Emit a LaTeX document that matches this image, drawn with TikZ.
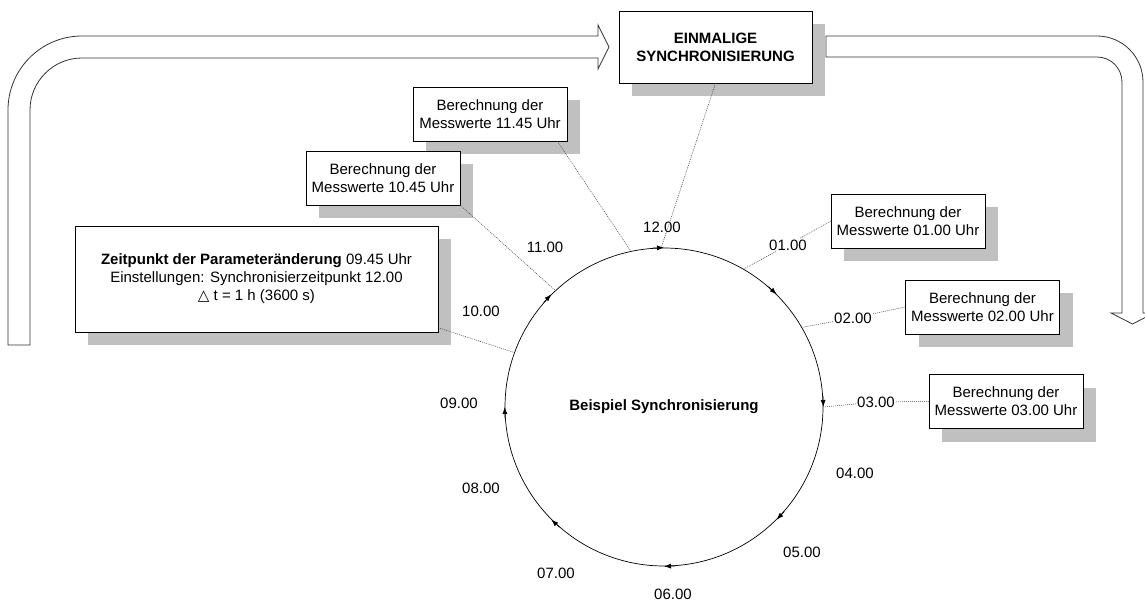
\documentclass[tikz,border=0pt]{standalone}
\usepackage{fontspec}
\setmainfont{Liberation Sans}
\newfontfamily\symfont{DejaVu Sans}
\usepackage{tikz}
\usetikzlibrary{arrows.meta,shadows}

\definecolor{shadowgray}{RGB}{192,192,192}
\newcommand{\boxfont}{\fontsize{15}{18}\selectfont}

\begin{document}
\begin{tikzpicture}[x=1pt,y=-1pt,font=\boxfont]
        \tikzset{box/.style = {draw, fill=white, align=center, inner sep=0pt,
                minimum width=154pt, minimum height=54pt,
                drop shadow={shadow xshift=13pt, shadow yshift=-13pt, fill=shadowgray, opacity=1}}}
        \tikzset{hour/.style = {inner sep=1pt}}
        \tikzset{link/.style = {draw=black!75, line width=0.5pt, dash pattern=on 1pt off 1pt}}
        \tikzset{edge/.style = {->,> = {Latex[length=7pt,width=5pt]}, line width=0.7pt}}
        \tikzset{band/.style = {draw=black!80, fill=white, line width=0.8pt}}

        \clip (0,0) rectangle (1145,601);

        % broad arrows
        \path[band] (8,345) -- (8,110) arc[start angle=180, end angle=90, radius=74pt]
            -- (598,36) -- (598,25) -- (609,47) -- (598,69) -- (598,58)
            -- (82,58) arc[start angle=90, end angle=180, radius=52pt] -- (30,345) -- cycle;
        \path[band] (826,36) -- (1097,36) arc[start angle=90, end angle=0, radius=46pt]
            -- (1143,313) -- (1154,313) -- (1132.5,324) -- (1111,313) -- (1122,313)
            -- (1122,82) arc[start angle=0, end angle=90, radius=25pt] -- (826,57) -- cycle;

        % nodes
        \node[box, minimum width=193pt, minimum height=72pt, font=\boxfont\bfseries] (sync)
            at (715.5,47) {EINMALIGE\\SYNCHRONISIERUNG};
        \node[box, minimum width=363pt, minimum height=106pt] (change) at (256.5,279)
            {\textbf{Zeitpunkt der Parameteränderung} 09.45 Uhr\\
             Einstellungen: Synchronisierzeitpunkt 12.00\\
             {\symfont △} t = 1 h (3600 s)};

        \foreach \n/\x/\y/\t in {1145/490/114/11.45, 1045/383/178/10.45, 0100/908/221/01.00,
                                 0200/982.5/307/02.00, 0300/1006/401.5/03.00}
            \node[box] (m\n) at (\x,\y) {Berechnung der\\Messwerte \t{} Uhr};

        \node[circle, draw, line width=0.7pt, minimum size=318pt, inner sep=0pt,
              font=\boxfont\bfseries] (clock) at (664,407) {Beispiel Synchronisierung};

        \foreach \h/\x/\y in {12/662/227, 01/788/245, 02/853/318, 03/876/402,
                              04/855/473, 05/802/552, 06/673/594, 07/556/573,
                              08/481/488, 09/459/403, 10/481/311, 11/545/247}
            \node[hour] (h\h) at (\x,\y) {\h.00};

        % arrows round the clock
        \foreach \a/\b in {94/90, 49/45, 4/0, -41/-45, -86/-90, -131/-135, 184/180, 139/135}
            \draw[edge] (clock.\a) -- (clock.\b);

        %edges
        \draw[link] (sync.south) -- (clock.91);
        \draw[link] (m1145.-22) -- (clock.102);
        \draw[link] (m1045.south east) -- (clock.133);
        \draw[link] (change.-15) -- (clock.160);
        \draw[link] (m0100.west) -- (h01) -- (clock.60);
        \draw[link] (m0200.west) -- (h02) -- (clock.30);
        \draw[link] (m0300.west) -- (h03) -- (clock.0);

\end{tikzpicture}
\end{document}
